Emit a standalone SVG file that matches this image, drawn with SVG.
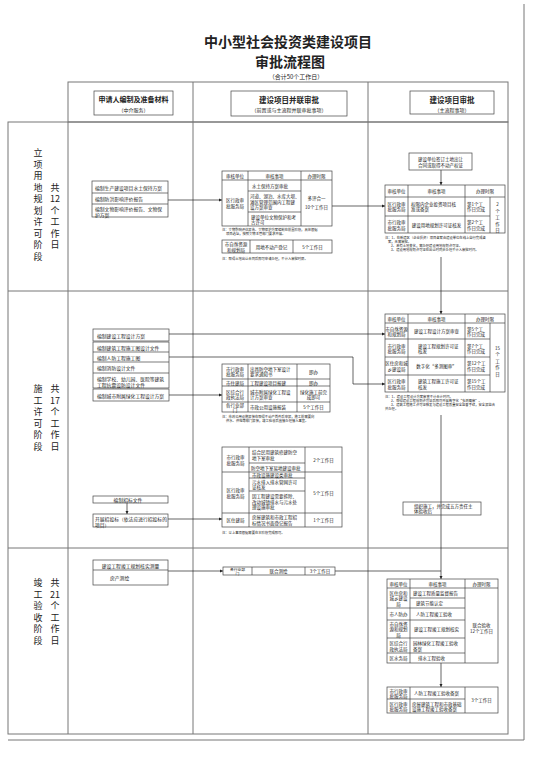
<svg xmlns="http://www.w3.org/2000/svg" width="534" height="757" viewBox="0 0 534 757">
<defs>
<marker id="ah" viewBox="0 0 6 6" refX="6" refY="3" markerWidth="5" markerHeight="5" orient="auto"><path d="M0,0L6,3L0,6z" fill="#222"/></marker>
<style>
.fr{stroke:#777;stroke-width:1;fill:none}
.ln{stroke:#444;stroke-width:0.7;fill:none}
.bx{stroke:#444;stroke-width:0.7;fill:#fff}
.cn{stroke:#222;stroke-width:0.7;fill:none;marker-end:url(#ah)}
.cl{stroke:#222;stroke-width:0.7;fill:none}
.t{font-family:"Noto Sans CJK SC","Liberation Sans",sans-serif;font-size:4.5px;fill:#222;dominant-baseline:central}
.m{text-anchor:middle}
.n{font-size:3.3px}
.l4{font-size:4.8px}
.ph{font-size:9px}
.hd{font-size:7.5px;font-weight:bold}
.sub{font-size:5px}
.ti{font-size:14px;font-weight:bold}
</style>
</defs>
<rect width="534" height="757" fill="#fff"/>

<g id="frame">
<path class="fr" d="M524,4V740H8"/>
<rect class="fr" x="68" y="82" width="440" height="40"/>
<rect class="fr" x="8" y="122" width="500" height="612"/>
<path class="fr" d="M68,122V734M193,82V734M368,82V734M8,291H508M8,548H508"/>
</g>

<g id="title">
<text class="t m ti" x="288" y="41">中小型社会投资类建设项目</text>
<text class="t m ti" x="290" y="61">审批流程图</text>
<text class="t m" x="296" y="76.5" style="font-size:6px">（合计50个工作日）</text>
</g>

<g id="header1"><rect class="bx" x="94" y="91" width="79" height="24"/><text class="t m hd" x="133.5" y="99" style="font-size:7px">申请人编制及准备材料</text><text class="t m sub" x="133.5" y="109">（中介服务）</text></g>
<g id="header2"><rect class="bx" x="231" y="91" width="116" height="25"/><text class="t m hd" x="289" y="99">建设项目并联审批</text><text class="t m sub" x="289" y="109">（前置或与主流程并联审批事项）</text></g>
<g id="header3"><rect class="bx" x="410" y="91" width="84" height="23"/><text class="t m hd" x="452" y="99">建设项目审批</text><text class="t m sub" x="452" y="109">（主流程事项）</text></g>

<g id="phase1"><text class="t m ph"><tspan x="38" y="152">立</tspan><tspan x="38" y="163.5">项</tspan><tspan x="38" y="175">用</tspan><tspan x="38" y="186.5">地</tspan><tspan x="38" y="198">规</tspan><tspan x="38" y="209.5">划</tspan><tspan x="38" y="221">许</tspan><tspan x="38" y="232.5">可</tspan><tspan x="38" y="244">阶</tspan><tspan x="38" y="255.5">段</tspan></text>
<text class="t m ph"><tspan x="55" y="186.5">共</tspan><tspan x="55" y="198">12</tspan><tspan x="55" y="209.5">个</tspan><tspan x="55" y="221">工</tspan><tspan x="55" y="232.5">作</tspan><tspan x="55" y="244">日</tspan></text></g>
<g id="phase2"><text class="t m ph"><tspan x="38" y="388">施</tspan><tspan x="38" y="399.5">工</tspan><tspan x="38" y="411">许</tspan><tspan x="38" y="422.5">可</tspan><tspan x="38" y="434">阶</tspan><tspan x="38" y="445.5">段</tspan></text>
<text class="t m ph"><tspan x="55" y="388">共</tspan><tspan x="55" y="399.5">17</tspan><tspan x="55" y="411">个</tspan><tspan x="55" y="422.5">工</tspan><tspan x="55" y="434">作</tspan><tspan x="55" y="445.5">日</tspan></text></g>
<g id="phase3"><text class="t m ph"><tspan x="38" y="582">竣</tspan><tspan x="38" y="593.5">工</tspan><tspan x="38" y="605">验</tspan><tspan x="38" y="616.5">收</tspan><tspan x="38" y="628">阶</tspan><tspan x="38" y="639.5">段</tspan></text>
<text class="t m ph"><tspan x="55" y="582">共</tspan><tspan x="55" y="593.5">21</tspan><tspan x="55" y="605">个</tspan><tspan x="55" y="616.5">工</tspan><tspan x="55" y="628">作</tspan><tspan x="55" y="639.5">日</tspan></text></g>

<g id="connectors">
<path class="cn" d="M168,200H222"/>
<path class="cn" d="M332,206H385"/>
<path class="cn" d="M441,170V185"/>
<path class="cn" d="M441,257V314"/>
<path class="cn" d="M169,334H385"/>
<path class="cn" d="M169,357H353V384H385"/>
<path class="cn" d="M169,395H222"/>
<path class="cn" d="M441,415V579"/>
<path class="cn" d="M127,503V514"/>
<path class="cn" d="M168,519H222"/>
<path class="cn" d="M168,571H223"/>
<path class="cl" d="M335,571H441"/>
<path class="cn" d="M441,663V687"/>
</g>

<g id="s1-materials">
<rect class="bx" x="92" y="181" width="76" height="36"/>
<path class="ln" d="M92,193H168M92,204H168"/>
<text class="t l4" x="95" y="187">编制生产建设项目水土保持方案</text>
<text class="t l4" x="95" y="198.5">编制防洪影响评价报告</text>
<text class="t l4"><tspan x="95" y="208">编制文物影响评价报告、文物保</tspan><tspan x="95" y="213.5">护方案</tspan></text>
</g>

<g id="s1-parallel">
<rect class="bx" x="222" y="171" width="110" height="55"/>
<path class="ln" d="M222,180H332M248,171V226M301,171V226M248,191H301M248,212H301"/>
<text class="t m" x="235" y="175.5">审核单位</text>
<text class="t m" x="274.5" y="175.5">审核事项</text>
<text class="t m" x="316.5" y="175.5">办理时限</text>
<text class="t m"><tspan x="235" y="200">区行政审</tspan><tspan x="235" y="205.5">批服务局</tspan></text>
<text class="t" x="252" y="185.5">水土保持方案审批</text>
<text class="t"><tspan x="250" y="196">河道、湖泊、水库大坝、</tspan><tspan x="250" y="201.5">滩区管理范围内工程建</tspan><tspan x="250" y="207">设方案审查</tspan></text>
<text class="t"><tspan x="251" y="216.5">建设单位文物保护和考</tspan><tspan x="251" y="222">古许可</tspan></text>
<text class="t m"><tspan x="316.5" y="198">多评合一</tspan><tspan x="316.5" y="207">10个工作日</tspan></text>
<text class="t n"><tspan x="222" y="229">注：文物影响评估报告、文物保护方案编制在前置阶段，具体根据</tspan><tspan x="226" y="233">项目选址，按照文物主管部门要求开展。</tspan></text>
</g>

<g id="s1-land">
<rect class="bx" x="222" y="240" width="110" height="13"/>
<path class="ln" d="M250,240V253M293,240V253"/>
<text class="t m"><tspan x="236" y="244">市自然资源</tspan><tspan x="236" y="249.5">和规划局</tspan></text>
<text class="t m" x="271.5" y="246.5">用地不动产登记</text>
<text class="t m" x="312.5" y="246.5">5个工作日</text>
<text class="t n" x="222" y="258">注：取得土地出让合同后即可申请办理，不计入审批时限。</text>
</g>

<g id="s1-landcontract">
<rect class="bx" x="409" y="153" width="63" height="17"/>
<text class="t m"><tspan x="440.5" y="158.5">建设单位签订土地出让</tspan><tspan x="440.5" y="164.5">合同或取得不动产权证</tspan></text>
</g>

<g id="s1-main">
<rect class="bx" x="385" y="185" width="120" height="48"/>
<path class="ln" d="M385,197H505M408,185V233M465,185V233M490,197V233M385,216H490"/>
<text class="t m" x="396.5" y="191">审核单位</text>
<text class="t m" x="436.5" y="191">审核事项</text>
<text class="t m" x="485" y="191">办理时限</text>
<text class="t m"><tspan x="396.5" y="203.5">区行政审</tspan><tspan x="396.5" y="209">批服务局</tspan></text>
<text class="t"><tspan x="411" y="203.5">权限内企业投资项目核</tspan><tspan x="411" y="209">准或备案</tspan></text>
<text class="t"><tspan x="467" y="203.5">第1个工</tspan><tspan x="467" y="209">作日完成</tspan></text>
<text class="t m"><tspan x="396.5" y="222">市行政审</tspan><tspan x="396.5" y="227.5">批服务局</tspan></text>
<text class="t m" x="436.5" y="224.5">建设用地规划许可证核发</text>
<text class="t"><tspan x="467" y="222">第2个工</tspan><tspan x="467" y="227.5">作日完成</tspan></text>
<text class="t m"><tspan x="497.5" y="204">2</tspan><tspan x="497.5" y="210.5">个</tspan><tspan x="497.5" y="217">工</tspan><tspan x="497.5" y="223.5">作</tspan><tspan x="497.5" y="230">日</tspan></text>
<text class="t n"><tspan x="385" y="236.5">注：1、在新建区（企业投资）项目备案由建设单位在线上自行完成备</tspan><tspan x="388" y="240.5">案，无需审批。</tspan><tspan x="391" y="244.5">2、若有土地变化，需办理建设用地规划许可证。</tspan><tspan x="391" y="248.5">3、建设用地规划许可证在出让时同步办理不计入审批时间。</tspan></text>
</g>

<g id="s2-materials">
<rect class="bx" x="93" y="329" width="76" height="12"/>
<text class="t l4" x="97" y="335">编制建设工程设计方案</text>
<rect class="bx" x="93" y="342" width="76" height="46"/>
<path class="ln" d="M93,352H169M93,362H169M93,373H169"/>
<text class="t l4" x="97" y="347">编制建筑工程施工图设计文件</text>
<text class="t l4" x="97" y="357">编制人防工程施工图</text>
<text class="t l4" x="97" y="367.5">编制消防设计文件</text>
<text class="t l4"><tspan x="97" y="377.5">编制学校、幼儿园、医院等建筑</tspan><tspan x="97" y="383.5">工程抗震设防设计文件</tspan></text>
<rect class="bx" x="93" y="389" width="76" height="12"/>
<text class="t l4" x="97" y="395">编制城市附属绿化工程设计方案</text>
</g>

<g id="s2-parallel1">
<rect class="bx" x="222" y="364" width="108" height="48"/>
<path class="ln" d="M248,364V412M297,364V412M222,379H330M222,386H330M222,402H330"/>
<text class="t m"><tspan x="235" y="368.5">市行政审</tspan><tspan x="235" y="374">批服务局</tspan></text>
<text class="t"><tspan x="250" y="368.5">出具防空地下室设计</tspan><tspan x="250" y="374">要求通知书</tspan></text>
<text class="t m" x="313.5" y="371.5">即办</text>
<text class="t m" x="235" y="382.5">市住建局</text>
<text class="t" x="250" y="382.5">工程建设项目报建</text>
<text class="t m" x="313.5" y="382.5">即办</text>
<text class="t m"><tspan x="235" y="391.5">区综合行</tspan><tspan x="235" y="397">政执法局</tspan></text>
<text class="t"><tspan x="250" y="391.5">城市附属绿化工程设</tspan><tspan x="250" y="397">计方案审查</tspan></text>
<text class="t m"><tspan x="313.5" y="391.5">绿化施工前完</tspan><tspan x="313.5" y="397">成即可</tspan></text>
<text class="t m"><tspan x="235" y="404.5">各行业部</tspan><tspan x="235" y="409.5">门</tspan></text>
<text class="t" x="250" y="407">市政公用设施报装</text>
<text class="t m" x="313.5" y="407">5个工作日</text>
<text class="t n"><tspan x="222" y="416">注：市政公用设施报装在取得不动产首件后申报，施工前需要向</tspan><tspan x="226" y="420">供水、供电等部门报装，竣工验收后直接办理接入事宜。</tspan></text>
</g>

<g id="s2-main">
<rect class="bx" x="385" y="314" width="120" height="78"/>
<path class="ln" d="M385,323H505M408,314V392M465,314V392M490,323V392M385,339H490M385,357H490M385,375H490"/>
<text class="t m" x="396.5" y="318.5">审核单位</text>
<text class="t m" x="436.5" y="318.5">审核事项</text>
<text class="t m" x="485" y="318.5">办理时限</text>
<text class="t m"><tspan x="396.5" y="328.5">市自然资源</tspan><tspan x="396.5" y="334">和规划局</tspan></text>
<text class="t m" x="436.5" y="331">建设工程设计方案审查</text>
<text class="t"><tspan x="467" y="328.5">第5个工</tspan><tspan x="467" y="334">作日完成</tspan></text>
<text class="t m"><tspan x="396.5" y="345.5">市行政审</tspan><tspan x="396.5" y="351">批服务局</tspan></text>
<text class="t"><tspan x="418" y="345.5">建设工程规划许可证</tspan><tspan x="418" y="351">核发</tspan></text>
<text class="t"><tspan x="467" y="345.5">第7个工</tspan><tspan x="467" y="351">作日完成</tspan></text>
<text class="t m"><tspan x="396.5" y="363">区住房和城</tspan><tspan x="396.5" y="368.5">乡建设局</tspan></text>
<text class="t m" x="436.5" y="366">数字化“多测图审”</text>
<text class="t"><tspan x="467" y="363">第12个工</tspan><tspan x="467" y="368.5">作日完成</tspan></text>
<text class="t m"><tspan x="396.5" y="381">区行政审</tspan><tspan x="396.5" y="386.5">批服务局</tspan></text>
<text class="t"><tspan x="418" y="381">建筑工程施工许可证</tspan><tspan x="418" y="386.5">核发</tspan></text>
<text class="t"><tspan x="467" y="381">第15个工</tspan><tspan x="467" y="386.5">作日完成</tspan></text>
<text class="t m"><tspan x="497.5" y="348">15</tspan><tspan x="497.5" y="354">个</tspan><tspan x="497.5" y="360.5">工</tspan><tspan x="497.5" y="367">作</tspan><tspan x="497.5" y="373.5">日</tspan></text>
<text class="t n"><tspan x="385" y="396">注：1、建设工程设计方案审查不计合计时间。</tspan><tspan x="391" y="399.5">2、取得建设工程规划许可证后即可开展数字化“多测图审”。</tspan><tspan x="391" y="403.5">3、建筑工程施工许可证核发与建设工程质量安全监督手续，安全报监合</tspan><tspan x="385" y="407.5">并办理。</tspan></text>
</g>

<g id="s2-tender">
<rect class="bx" x="93" y="496" width="75" height="7"/>
<text class="t m l4" x="128" y="499.5">编制招标文件</text>
<rect class="bx" x="93" y="514" width="75" height="13"/>
<text class="t l4"><tspan x="95" y="517.5">开展招投标（依法应进行招投标的</tspan><tspan x="95" y="523.5">项目）</tspan></text>
</g>

<g id="s2-parallel2">
<rect class="bx" x="222" y="447" width="120" height="80"/>
<path class="ln" d="M249,447V527M305,447V527M222,472H342M222,513H342M249,463H305M249,478H305M249,491H305"/>
<text class="t m"><tspan x="235.5" y="457">市行政审</tspan><tspan x="235.5" y="462.5">批服务局</tspan></text>
<text class="t"><tspan x="252" y="452">结合民用建筑修建防空</tspan><tspan x="252" y="457.5">地下室审批</tspan></text>
<text class="t" x="251" y="467.5">防空地下室易地建设审批</text>
<text class="t m" x="323.5" y="459.5">2个工作日</text>
<text class="t m"><tspan x="235.5" y="490">区行政审</tspan><tspan x="235.5" y="495.5">批服务局</tspan></text>
<text class="t" x="252" y="475">市政设施建设类审批</text>
<text class="t"><tspan x="252" y="481.5">污水排入排水管网许可</tspan><tspan x="252" y="487">证核发</tspan></text>
<text class="t"><tspan x="252" y="496">因工程建设需要拆除、</tspan><tspan x="252" y="501.5">改动城镇排水与污水处</tspan><tspan x="252" y="507">理设施审批</tspan></text>
<text class="t m" x="323.5" y="492.5">5个工作日</text>
<text class="t m" x="235.5" y="520">区住建局</text>
<text class="t"><tspan x="252" y="517">房屋建筑和市政工程招</tspan><tspan x="252" y="522.5">标情况书面登记报告</tspan></text>
<text class="t m" x="323.5" y="520">1个工作日</text>
<text class="t n" x="222" y="532.5">注：以上事项根据需要在本阶段完成即可。</text>
</g>

<g id="s2-construct">
<rect class="bx" x="403" y="502" width="78" height="13" style="fill:none"/>
<text class="t"><tspan x="414" y="505.5">组织施工，并完成五方责任主</tspan><tspan x="414" y="511">体验收后</tspan></text>
</g>

<g id="s3-materials">
<rect class="bx" x="93" y="560" width="75" height="25"/>
<path class="ln" d="M93,570H168"/>
<text class="t m l4" x="130.5" y="565">建设工程竣工规划核实测量</text>
<text class="t l4" x="110" y="577.5">房产测绘</text>
</g>

<g id="s3-survey">
<rect class="bx" x="223" y="567" width="112" height="8"/>
<path class="ln" d="M252,567V575M305,567V575"/>
<text class="t m" style="font-size:3.8px"><tspan x="237.5" y="569.2">各行业部</tspan><tspan x="237.5" y="573.2">门</tspan></text>
<text class="t m" x="278.5" y="571">联合测绘</text>
<text class="t m" x="320" y="571">3个工作日</text>
</g>

<g id="s3-main">
<rect class="bx" x="387" y="579" width="111" height="84"/>
<path class="ln" d="M387,588H498M410,579V663M465,579V663M410,598H465M387,608H465M387,620H465M387,638H465M387,653H465"/>
<text class="t m" x="398.5" y="583.5">审核单位</text>
<text class="t m" x="437.5" y="583.5">审核事项</text>
<text class="t m" x="481.5" y="583.5">办理时限</text>
<text class="t m"><tspan x="398.5" y="592.5">区住房和</tspan><tspan x="398.5" y="598">城乡建设</tspan><tspan x="398.5" y="603.5">局</tspan></text>
<text class="t" x="413" y="593">建设工程质量监督报告</text>
<text class="t" x="416" y="603">建筑节能认定</text>
<text class="t m" x="398.5" y="614">市人防办</text>
<text class="t" x="416" y="614">人防工程竣工验收</text>
<text class="t m"><tspan x="398.5" y="623.5">市自然资</tspan><tspan x="398.5" y="629">源和规划</tspan><tspan x="398.5" y="634.5">局</tspan></text>
<text class="t" x="414" y="629">建设工程竣工规划核实</text>
<text class="t m"><tspan x="398.5" y="643">区综合行</tspan><tspan x="398.5" y="648.5">政执法局</tspan></text>
<text class="t"><tspan x="413" y="643">园林绿化工程竣工验收</tspan><tspan x="413" y="648.5">备案</tspan></text>
<text class="t m" x="398.5" y="658">区水务局</text>
<text class="t" x="418" y="658">排水工程验收</text>
<text class="t m"><tspan x="481.5" y="625">联合验收</tspan><tspan x="481.5" y="631">12个工作日</tspan></text>
</g>

<g id="s3-filing">
<rect class="bx" x="387" y="687" width="111" height="26"/>
<path class="ln" d="M410,687V713M465,687V713M387,699H465"/>
<text class="t m"><tspan x="398.5" y="690.5">市行政审</tspan><tspan x="398.5" y="695.5">批服务局</tspan></text>
<text class="t" x="414" y="693">人防工程竣工验收备案</text>
<text class="t m"><tspan x="398.5" y="703.5">区行政审</tspan><tspan x="398.5" y="709">批服务局</tspan></text>
<text class="t"><tspan x="412" y="703.5">房屋建筑工程和市政基础</tspan><tspan x="412" y="709">设施工程竣工验收备案</tspan></text>
<text class="t m" x="481.5" y="700">3个工作日</text>
</g>
</svg>
